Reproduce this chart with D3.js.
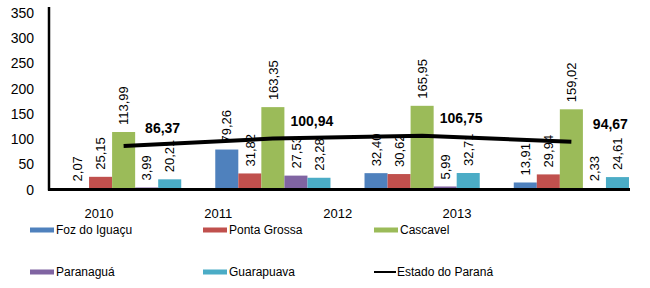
<!DOCTYPE html>
<html>
<head>
<meta charset="utf-8">
<script src="https://cdn.jsdelivr.net/npm/d3@7"></script>
<style>
  body { margin: 0; background: #fff; }
  svg { display: block; font-family: "Liberation Sans", Arial, sans-serif; }
</style>
</head>
<body>
<div id="chart"></div>
<script>
// data
const years = ["2010", "2011", "2012", "2013"];
const seriesNames = ["Foz do Iguaçu", "Ponta Grossa", "Cascavel", "Paranaguá", "Guarapuava"];
const foz = [2.07, 79.26, 32.40, 13.91];
const pontaGrossa = [25.15, 31.82, 30.62, 29.94];
const cascavel = [113.99, 163.35, 165.95, 159.02];
const paranagua = [3.99, 27.53, 5.99, 2.33];
const guarapuava = [20.21, 23.28, 32.71, 24.61];
const estado = [86.37, 100.94, 106.75, 94.67];
const lineName = "Estado do Paraná";
const yTicks = [0, 50, 100, 150, 200, 250, 300, 350];

const seriesValues = [foz, pontaGrossa, cascavel, paranagua, guarapuava];
const colors = ["#4F81BD", "#C0504D", "#9BBB59", "#8064A2", "#4BACC6"];

const width = 650, height = 288;
const svg = d3.select("#chart").append("svg")
    .attr("width", width)
    .attr("height", height);

const fmt = v => d3.format(".2f")(v).replace(".", ",");

let y = d3.scaleLinear().domain([0, 350]).range([189.5, 13]);
let x0 = d3.scaleBand().domain(years).range([49, 646])
    .paddingInner(0.228).paddingOuter(0.114);
let x1 = d3.scaleBand().domain(seriesNames).range([0, x0.bandwidth()]);
// the category labels sit off-centre in the original
let xLabel = d3.scalePoint().domain(years).range([99, 457]);

// y tick labels (no tick marks)
svg.append("g").selectAll("text")
    .data(yTicks)
    .join("text")
    .attr("x", 34)
    .attr("y", d => y(d))
    .attr("dy", "0.36em")
    .attr("text-anchor", "end")
    .attr("font-size", 14)
    .attr("fill", "#000")
    .text(d => d);

// bars
let rows = [];
years.forEach((yr, i) => {
    seriesNames.forEach((s, j) => {
        rows.push({year: yr, series: s, value: seriesValues[j][i], color: colors[j]});
    });
});

svg.append("g").selectAll("rect")
    .data(rows)
    .join("rect")
    .attr("x", d => x0(d.year) + x1(d.series))
    .attr("y", d => y(d.value))
    .attr("width", x1.bandwidth())
    .attr("height", d => y(0) - y(d.value))
    .attr("fill", d => d.color);

// bar value labels, rotated
svg.append("g").selectAll("text")
    .data(rows)
    .join("text")
    .attr("transform", d => {
        let cx = x0(d.year) + x1(d.series) + x1.bandwidth() / 2;
        return `translate(${cx},${y(d.value) - 7}) rotate(-90)`;
    })
    .attr("dy", "0.36em")
    .attr("font-size", 13)
    .attr("fill", "#000")
    .text(d => fmt(d.value));

// axes lines
svg.append("line")
    .attr("x1", 49).attr("x2", 49)
    .attr("y1", 7).attr("y2", y(0) + 1)
    .attr("stroke", "#000").attr("stroke-width", 2.5);
svg.append("line")
    .attr("x1", 48).attr("x2", 630)
    .attr("y1", y(0)).attr("y2", y(0))
    .attr("stroke", "#000").attr("stroke-width", 3);

// x labels
svg.append("g").selectAll("text")
    .data(years)
    .join("text")
    .attr("x", d => xLabel(d))
    .attr("y", 218)
    .attr("text-anchor", "middle")
    .attr("font-size", 13)
    .attr("fill", "#000")
    .text(d => d);

// Estado do Paraná line
let linePts = years.map((yr, i) => ({x: x0(yr) + x0.bandwidth() / 2, v: estado[i]}));
svg.append("path")
    .datum(linePts)
    .attr("d", d3.line().x(d => d.x).y(d => y(d.v)))
    .attr("fill", "none")
    .attr("stroke", "#000")
    .attr("stroke-width", 4);

svg.append("g").selectAll("text")
    .data(linePts)
    .join("text")
    .attr("x", d => d.x + 39)
    .attr("y", d => y(d.v) - 13)
    .attr("text-anchor", "middle")
    .attr("font-size", 14)
    .attr("font-weight", "bold")
    .attr("fill", "#000")
    .text(d => fmt(d.v));

// legend
let legendItems = seriesNames.map((s, i) => ({name: s, color: colors[i], type: "bar"}));
legendItems.push({name: lineName, color: "#000", type: "line"});
let colX = [30, 203, 374];
let rowY = [230, 272];

let leg = svg.append("g").selectAll("g")
    .data(legendItems)
    .join("g")
    .attr("transform", (d, i) => `translate(${colX[i % 3]},${rowY[Math.floor(i / 3)]})`);

leg.filter(d => d.type === "bar").append("rect")
    .attr("x", 0).attr("y", -2.5)
    .attr("width", 24).attr("height", 5)
    .attr("fill", d => d.color);
leg.filter(d => d.type === "line").append("line")
    .attr("x1", 0).attr("x2", 22)
    .attr("y1", 0).attr("y2", 0)
    .attr("stroke", "#000").attr("stroke-width", 2);

leg.append("text")
    .attr("x", d => d.type === "line" ? 23 : 26)
    .attr("y", 0)
    .attr("dy", "0.35em")
    .attr("font-size", 12)
    .attr("fill", "#000")
    .text(d => d.name);
</script>
</body>
</html>
